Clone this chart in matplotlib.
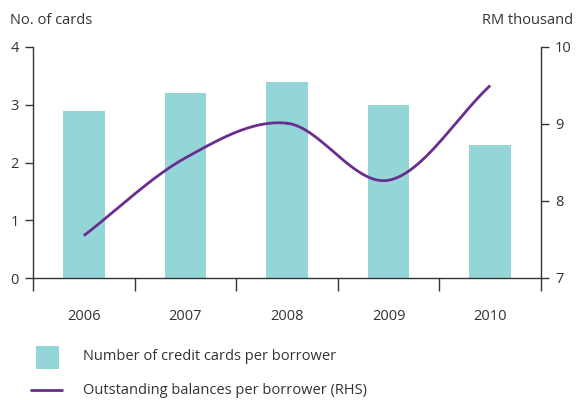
import numpy as np
import matplotlib
matplotlib.use("Agg")
import matplotlib.pyplot as plt
from matplotlib.patches import Rectangle
from matplotlib.lines import Line2D

plt.rcParams['font.family'] = ['Open Sans', 'DejaVu Sans']

years = ["2006", "2007", "2008", "2009", "2010"]
cards_per_borrower = [2.9, 3.2, 3.4, 3.0, 2.3]
balance_per_borrower = [7.55, 8.56, 9.01, 8.27, 9.50]

bar_color = "#94d6d7"
line_color = "#6a2d8f"
text_color = "#333333"

W, H = 576, 400


def catmull_rom(x, y, n=40):
    """Smooth curve through the given points (uniform Catmull-Rom)."""
    x = np.asarray(x, float)
    y = np.asarray(y, float)
    px = np.concatenate([[2 * x[0] - x[1]], x, [2 * x[-1] - x[-2]]])
    py = np.concatenate([[2 * y[0] - y[1]], y, [2 * y[-1] - y[-2]]])
    xs, ys = [], []
    t = np.linspace(0, 1, n)
    for i in range(1, len(px) - 2):
        for arr, out in ((px, xs), (py, ys)):
            p0, p1, p2, p3 = arr[i - 1], arr[i], arr[i + 1], arr[i + 2]
            seg = 0.5 * ((2 * p1) + (-p0 + p2) * t
                         + (2 * p0 - 5 * p1 + 4 * p2 - p3) * t ** 2
                         + (-p0 + 3 * p1 - 3 * p2 + p3) * t ** 3)
            out.append(seg)
    return np.concatenate(xs), np.concatenate(ys)


def fx(px):
    return px / W


def fy(py):
    return 1 - py / H


fig = plt.figure(figsize=(W / 100, H / 100), dpi=100)
ax = fig.add_axes([fx(33), fy(278), (541 - 33) / W, (278 - 47) / H])
ax2 = ax.twinx()

pos = np.arange(len(years))
ax.bar(pos, cards_per_borrower, width=0.41, color=bar_color, zorder=2)

sx, sy = catmull_rom(pos, balance_per_borrower)
ax2.plot(sx, sy, color=line_color, lw=2.0, solid_capstyle='butt', zorder=3)

ax.set_xlim(-0.5, len(years) - 0.5)
ax.set_ylim(0, 4)
ax2.set_ylim(7, 10)
ax.set_yticks([0, 1, 2, 3, 4])
ax2.set_yticks([7, 8, 9, 10])

# category boundaries carry the tick marks, labels sit at centres
ax.set_xticks(np.arange(-0.5, len(years)), minor=False)
ax.set_xticklabels([])
ax.set_xticks(pos, minor=True)
ax.set_xticklabels(years, minor=True)
ax.tick_params(axis='x', which='major', length=9, width=1, color=text_color, direction='out')
ax.tick_params(axis='x', which='minor', length=0, pad=22, labelsize=10.5, labelcolor=text_color)

for a in (ax, ax2):
    a.spines['top'].set_visible(False)
    for s in a.spines.values():
        s.set_color(text_color)
        s.set_linewidth(1.0)
ax.spines['right'].set_visible(False)
ax2.spines['left'].set_visible(False)
ax2.spines['bottom'].set_visible(False)

ax.tick_params(axis='y', length=6, width=1, color=text_color, labelsize=10.5,
               labelcolor=text_color, pad=4)
ax2.tick_params(axis='y', length=6, width=1, color=text_color, labelsize=10.5,
                labelcolor=text_color, pad=4)

fig.text(fx(10), fy(20), "No. of cards", fontsize=10.5, color=text_color,
         ha='left', va='center')
fig.text(fx(573), fy(20), "RM thousand", fontsize=10.5, color=text_color,
         ha='right', va='center')

# legend keys and labels
fig.add_artist(Rectangle((fx(36), fy(369)), (59 - 36) / W, (369 - 346) / H,
                         transform=fig.transFigure, facecolor=bar_color, edgecolor='none'))
fig.add_artist(Line2D([fx(30), fx(63)], [fy(390), fy(390)], transform=fig.transFigure,
                      color=line_color, lw=2.0, solid_capstyle='butt'))
fig.text(fx(83), fy(357), "Number of credit cards per borrower", fontsize=10.5,
         color=text_color, ha='left', va='center')
fig.text(fx(83), fy(391), "Outstanding balances per borrower (RHS)", fontsize=10.5,
         color=text_color, ha='left', va='center')

fig.savefig("out.png", dpi=100)
